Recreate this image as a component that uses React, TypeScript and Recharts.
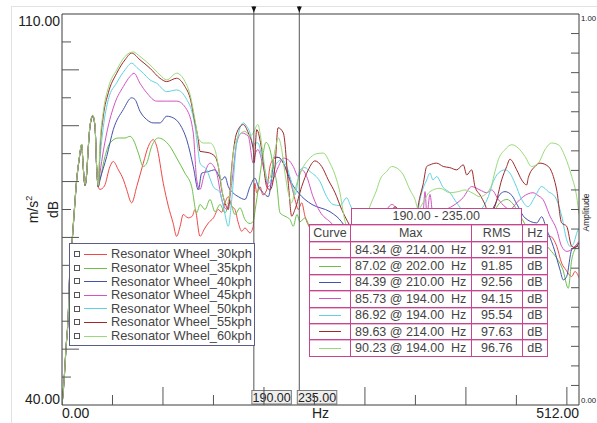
import React from 'react';
import { LineChart, Line, XAxis, YAxis, ReferenceLine, Legend } from 'recharts';

type Pt = [number, number];

// Frequency (Hz), level (dB)
const wheel30kph: Pt[] = [
  [0, 40], [2, 44], [4, 50.5], [6, 55], [8, 65], [10, 69], [12, 74], [14.5, 80], [17, 84], [19.5, 86.4], [21, 82.5], [22.8, 79.2], [24.5, 81.4], [26, 86], [27.7, 89.7], [30.4, 91.6], [32.7, 89.7], [34.3, 82.5], [35.9, 79],
  [37.6, 78.6], [42, 79.2], [47.5, 82.7], [50.8, 83.6], [55.8, 82.1], [60.9, 80.3], [64, 78.6], [69, 76.2], [74, 79.1], [80.5, 83.3], [85.5, 86.3], [90.4, 87.5], [93.8, 86.3], [100.3, 79.7], [105.3, 75.6], [110, 72.6], [113.5, 70.2], [117, 72], [120, 74.1], [125, 73.5], [129, 73.8], [131.7, 75], [136.7, 70.2], [141, 71.5], [145, 72.6], [150, 73.5], [154.8, 75], [158, 74.5], [161.4, 76.2], [164.7, 77.3], [168.1, 75.6], [171.3, 75], [174.6, 72.6], [178, 71.1], [181.2, 71.7], [186.2, 70.8], [189.4, 72], [191, 79.7], [192.8, 78], [196.1, 79.1], [199, 77.6], [202.7, 78.5], [206, 82.7], [209.3, 84], [214, 84.34], [219.2, 83.3], [224.1, 80.9], [227.5, 79.1], [230.7, 76.8], [234, 75], [237.4, 76.2], [240.6, 73.8], [246, 71.5], [260, 69], [290, 67], [330, 66], [380, 67], [430, 68], [470, 69], [483.3, 70.2], [490, 68.4], [494.8, 65.4], [499, 64.2], [504.8, 63], [508, 63.9], [512, 62.8],
];

const wheel35kph: Pt[] = [
  [0, 40], [2, 44.5], [4, 50], [6, 55.5], [8, 65.5], [10, 69.5], [12, 74.5], [14.5, 80.3], [17, 84], [19.5, 86.6], [21, 82.7], [22.8, 79.4], [24.5, 81.6], [26, 86], [27.7, 89.9], [30.4, 91.8], [32.7, 89.9], [34.3, 82.7], [35.9, 79.1],
  [37.6, 80.3], [42.6, 84.5], [47.5, 86.9], [55.8, 87.8], [62.4, 87.8], [67.3, 88.1], [70.6, 87.5], [75.6, 85.1], [80.5, 82.7], [83.9, 83.3], [88.8, 86.3], [95.4, 87.8], [100.3, 87.5], [106.9, 86.3], [113.6, 84.2], [121.8, 81.5], [128.4, 79.1], [133.4, 74.4], [136.7, 75.9], [141.6, 75], [146.6, 76.8], [151.5, 74.6], [156.5, 75.9], [161.4, 74.4], [166.4, 76.2], [171.3, 74.1], [176.3, 75.3], [181.2, 73.2], [186.2, 72.5], [189.1, 72.8], [192.1, 75.9], [196.1, 81.2], [199, 84.8], [202, 87.02], [206, 85.7], [209, 83], [212.6, 79.7], [215.9, 74.4], [220.8, 73.8], [225.8, 73.2], [229, 72], [232.7, 74.1], [235.7, 72.8], [240.6, 73.5], [245.6, 71.7], [260, 69], [290, 66.5], [330, 67], [370, 70], [400, 72.5], [425, 74], [433.7, 76.2], [440.6, 76.8], [446.6, 76], [451.6, 74.6], [460, 72], [470, 70.5], [483.3, 67.8], [489.9, 66.3], [496.1, 64.2], [501.4, 60.9], [504.8, 66], [509.7, 68.4], [512, 69.1],
];

const wheel40kph: Pt[] = [
  [0, 40], [2, 44.3], [4, 50.3], [6, 55.2], [8, 65.3], [10, 69.2], [12, 74.2], [14.5, 80.2], [17, 84], [19.5, 86.5], [21, 82.6], [22.8, 79.3], [24.5, 81.5], [26, 86], [27.7, 89.8], [30.4, 91.7], [32.7, 89.8], [34.3, 82.6], [35.9, 79.1],
  [37.6, 80.3], [44.3, 84.5], [50.8, 89.3], [60.7, 92.9], [69, 95], [72.3, 94.7], [77.2, 92.6], [83.9, 91.1], [90.4, 90.5], [97, 90.5], [103.7, 91.7], [110.2, 91.4], [116.9, 90.2], [123.5, 87.5], [130, 82.7], [135, 78.5], [138.3, 81.5], [144.9, 81.8], [151.5, 82.1], [158.2, 80.3], [161.4, 80.9], [164.7, 79.1], [169.3, 78], [174.6, 77.3], [181.2, 76.8], [186.2, 79.1], [191.1, 80.6], [194.4, 79.1], [199.3, 78], [204.3, 77.3], [208, 81.2], [210, 84.39], [214.9, 84.3], [220.8, 82.7], [227.5, 79.7], [234, 78], [240.6, 76.8], [247.6, 75.9], [265.4, 74.6], [272.3, 73.7], [290, 70], [330, 68], [370, 69], [400, 70.5], [420, 73], [428.8, 75.9], [433.7, 77.7], [438.7, 78.2], [445.6, 77.5], [450.3, 76], [458.5, 73.5], [470.1, 72.6], [475, 73.7], [480, 71.4], [486.5, 68.4], [493.2, 64.2], [496.4, 62.4], [499.8, 63], [504.8, 67.8], [509.7, 68.4], [512, 68.2],
];

const wheel45kph: Pt[] = [
  [0, 40], [2, 44.4], [4, 50.1], [6, 55.4], [8, 65.1], [10, 69.4], [12, 74.4], [14.5, 80.3], [17, 84], [19.5, 86.6], [21, 82.7], [22.8, 79.4], [24.5, 81.6], [26, 86], [27.7, 89.9], [30.4, 91.8], [32.7, 89.9], [34.3, 82.7], [35.9, 79.1],
  [37.6, 81.5], [44.3, 88.7], [52.5, 94.1], [60.7, 97], [67.3, 98.8], [71.3, 99.4], [77.2, 97.6], [83.9, 95.9], [93.8, 94.4], [103.7, 94.4], [113.6, 94.4], [123.5, 92.9], [130, 88.7], [133.4, 80.3], [136.7, 78.6], [140.6, 81.1], [146.6, 83.3], [153.2, 81.5], [158.2, 76.8], [163.1, 75], [168.1, 79.7], [173, 86.9], [178, 88.7], [184.5, 88.1], [189.4, 83.3], [191.1, 84.8], [194, 85.73], [199.3, 82.7], [204.3, 79.1], [209, 80.3], [214.3, 82.7], [219.2, 84.2], [224.1, 83.9], [229, 82.7], [234, 80.9], [237.7, 82.1], [242.3, 80.9], [248.6, 77.3], [255.5, 74.6], [265.4, 72.8], [285, 70], [305, 71], [319.9, 74.6], [326.8, 75.9], [333.7, 74.6], [350, 71], [357.5, 74.1], [359.5, 78.2], [361.4, 74.1], [364.4, 77.7], [367.4, 74.1], [380.3, 75], [389.2, 75.9], [397.1, 77.1], [405.7, 79.1], [413.9, 78.5], [420.6, 78], [425.5, 78.5], [432.1, 76.8], [438.7, 75.5], [443.6, 75], [450.3, 76.2], [456.8, 77.3], [466.4, 78], [471.4, 77.5], [476.3, 76.8], [483.3, 73.8], [489.9, 71.4], [494.8, 68.4], [500.1, 67.5], [508, 68.4], [512, 69.3],
];

const wheel50kph: Pt[] = [
  [0, 40], [2, 44.1], [4, 50.4], [6, 55.3], [8, 65.4], [10, 69.1], [12, 74.1], [14.5, 80.1], [17, 84.1], [19.5, 86.5], [21, 82.6], [22.8, 79.3], [24.5, 81.5], [26, 86], [27.7, 89.8], [30.4, 91.7], [32.7, 89.8], [34.3, 82.6], [35.9, 79.1],
  [37.6, 83.9], [40.9, 89.7], [45.9, 94.7], [54.2, 97.7], [62.4, 100], [69, 101.2], [74.3, 100.4], [80.5, 99.4], [87.1, 98.2], [93.8, 97.6], [103.7, 96.1], [113.6, 96.4], [123.5, 94.7], [128.7, 92.5], [131.7, 89.9], [134.7, 85.7], [136.7, 83.3], [143.3, 82.1], [149.8, 79.1], [156.5, 78], [160.4, 75], [164.7, 72], [168.1, 76.8], [173, 86.9], [179.5, 90.5], [182.9, 89.9], [186.2, 88.7], [189.4, 86.3], [191.1, 86.9], [194, 86.92], [197.8, 84.5], [201, 82.1], [204.3, 79.7], [208, 80.7], [212.6, 83.3], [217.6, 83.9], [222.5, 82.7], [227.5, 79.7], [230.7, 77.6], [235.7, 82.1], [240.6, 82.5], [245.6, 81.8], [255.5, 80], [262.1, 77.3], [268.4, 75.9], [275.3, 75.7], [282, 77.1], [285.2, 75.9], [300, 70], [330, 68], [350, 72], [354.5, 76.8], [361.2, 80.3], [364.4, 81.5], [367.4, 80.3], [371, 80.9], [377.6, 78.9], [384.2, 78], [390.9, 76.2], [399.1, 74.6], [414, 75], [422.2, 77.3], [427.1, 80], [432.1, 81.5], [438.7, 82.1], [443.6, 81.5], [448.6, 79.7], [455.2, 76.8], [461.5, 75.5], [468.4, 77.3], [475, 79.1], [481.6, 78.2], [488.2, 77.3], [494.9, 73.8], [499.8, 69.6], [503.1, 68.4], [506, 68.7], [511.3, 71.4], [512, 71.5],
];

const wheel55kph: Pt[] = [
  [0, 40], [2, 44.2], [4, 50.2], [6, 55.6], [8, 65.2], [10, 69.3], [12, 74.3], [14.5, 80.3], [17, 84], [19.5, 86.6], [21, 82.7], [22.8, 79.4], [24.5, 81.6], [26, 86], [27.7, 89.9], [30.4, 91.8], [32.7, 89.9], [34.3, 82.7], [35.9, 79.1],
  [37.6, 85.7], [40.9, 91.7], [45.9, 95.9], [54.2, 99.4], [62.4, 101.8], [69, 103], [77.2, 101.8], [87.1, 100.3], [97, 98.5], [103.6, 97.9], [113.5, 98.5], [121.8, 97], [126.8, 95], [131.7, 90.6], [135, 87.5], [136.7, 85.4], [144.6, 85.2], [151.5, 84.5], [154.8, 82.7], [158.2, 78.5], [161.4, 76.2], [164.7, 75], [168.1, 82.7], [173, 88.7], [179.5, 90.2], [184.5, 88.7], [189.4, 85.7], [190.4, 83.4], [192.8, 89.3], [197.8, 85.7], [202.7, 79.1], [206, 78.5], [210.9, 82.7], [214, 89.63], [219.2, 88.7], [224.1, 79.7], [227.5, 73.8], [230.7, 75], [237.4, 79.1], [243.9, 82.1], [250.5, 83.7], [257.2, 82.7], [263.7, 80.3], [270.4, 78], [277, 75], [283, 72.8], [295, 70], [310, 70], [322, 73], [330, 75.5], [338, 73], [348, 72], [354.5, 77.3], [357.5, 79.4], [361.2, 82.7], [364.4, 83], [371, 83.3], [377.6, 82.7], [384, 82.5], [390.9, 82.1], [397.4, 83], [400.8, 81.2], [405.7, 82.1], [409, 79.1], [414, 77.6], [418.9, 75.9], [423, 74], [428.8, 75.6], [435.4, 80.3], [440.4, 82.7], [443.6, 84], [450.3, 82.1], [455.2, 80.3], [460.2, 79.4], [461.8, 80.7], [468.4, 82.7], [473.4, 83.3], [481.6, 82.7], [486.6, 80.9], [489.9, 78.5], [494.8, 72.6], [499.8, 72], [504.8, 68.4], [508, 68.2], [512, 69],
];

const wheel60kph: Pt[] = [
  [0, 40], [2, 44.2], [4, 50.2], [6, 55.5], [8, 65.2], [10, 69.3], [12, 74.3], [14.5, 80.3], [17, 84.1], [19.5, 86.7], [21, 82.8], [22.8, 79.5], [24.5, 81.7], [26, 86.1], [27.7, 90], [30.4, 91.9], [32.7, 90], [34.3, 82.8], [35.9, 79.3],
  [37.6, 86.6], [40.9, 92.5], [45.9, 96.8], [54.2, 100], [62.4, 102.4], [70.6, 103.2], [77.2, 102.4], [87.1, 100.9], [97, 99.1], [103.7, 98.2], [113.6, 99.4], [121.8, 97.9], [126.8, 95.6], [131.7, 91.1], [135, 87.8], [139.9, 86.9], [146.6, 86.9], [151.5, 85.7], [156.5, 80.9], [159.7, 77.3], [163.1, 75.9], [166.4, 78], [169.6, 85.1], [174.6, 88.1], [181.2, 89], [186.2, 88.1], [189.4, 88.7], [194, 90.23], [196.1, 88.7], [199.3, 84.5], [202.7, 80.3], [206, 80.7], [211, 85.7], [214.3, 87.8], [217.6, 85.7], [220.8, 81.5], [224.1, 78], [227.5, 76.2], [230.7, 78.5], [237.4, 82.1], [243.9, 83.9], [252.2, 85], [258.8, 85.1], [265.4, 83.3], [272, 80.3], [275.3, 78], [278.6, 74.4], [285.2, 70.5], [295, 70], [305, 75.6], [311.6, 78.5], [314.9, 80.3], [321.5, 81.8], [326.5, 82.7], [330.8, 82.5], [338, 81.2], [344.6, 78.5], [349.6, 76.8], [352.9, 75], [356.5, 75.9], [364.4, 78.2], [374.3, 78.8], [384.2, 78], [392.4, 78.2], [399.1, 78.5], [406, 78], [413.9, 77.3], [420.9, 78], [425.5, 79.4], [428.8, 81.8], [432.1, 83.9], [438.7, 85.7], [445.3, 86.6], [451.9, 86], [458.5, 84.5], [465.1, 82.7], [471.7, 83.3], [478.3, 85.7], [484.9, 86.9], [491.5, 86.6], [498.1, 84.5], [504.8, 80.9], [509.7, 77.3], [512, 74.1],
];

const seriesNames = [
  'Resonator Wheel_30kph',
  'Resonator Wheel_35kph',
  'Resonator Wheel_40kph',
  'Resonator Wheel_45kph',
  'Resonator Wheel_50kph',
  'Resonator Wheel_55kph',
  'Resonator Wheel_60kph',
];
const seriesPoints = [wheel30kph, wheel35kph, wheel40kph, wheel45kph, wheel50kph, wheel55kph, wheel60kph];
const seriesColors = ['#f04646', '#6cc04a', '#4352ad', '#d253c2', '#5dd2e2', '#a02828', '#98da78'];

const freqTicks = [0, 50, 100, 150, 200, 250, 300, 350, 400, 450, 500, 512];
const dbTicks = [40, 45, 50, 55, 60, 65, 70, 75, 80, 85, 90, 95, 100, 105, 110];
const ampTicks = [0, 0.05, 0.1, 0.15, 0.2, 0.25, 0.3, 0.35, 0.4, 0.45, 0.5, 0.55, 0.6, 0.65, 0.7, 0.75, 0.8, 0.85, 0.9, 0.95, 1];
const cursorHz = [190, 235];

// Cursor band statistics
const maxDb = [84.34, 87.02, 84.39, 85.73, 86.92, 89.63, 90.23];
const maxAtHz = [214, 202, 210, 194, 194, 214, 194];
const rmsDb = [92.91, 91.85, 92.56, 94.15, 95.54, 97.63, 96.76];

const FONT = '"Liberation Sans", Arial, sans-serif';
const AXIS = '#3c3c3c';
const PINK = '#c4468f';

const XTick = (props: any) => {
  const { x, y, payload } = props;
  const v = payload.value;
  if (v === 0 || v === 512) {
    return (
      <text x={x} y={y + 13} textAnchor={v === 0 ? 'start' : 'end'} fontSize={14} fill="#222" fontFamily={FONT}>
        {v.toFixed(2)}
      </text>
    );
  }
  const len = v % 100 === 0 ? 18 : 10;
  return <line x1={x} x2={x} y1={y} y2={y - len} stroke="#555" />;
};

const YTick = (props: any) => {
  const { x, y, payload } = props;
  const v = payload.value;
  if (v === 110) {
    return <text x={x - 2} y={y + 12} textAnchor="end" fontSize={14} fill="#222" fontFamily={FONT}>{v.toFixed(2)}</text>;
  }
  if (v === 40) {
    return <text x={x - 2} y={y - 1.5} textAnchor="end" fontSize={14} fill="#222" fontFamily={FONT}>{v.toFixed(2)}</text>;
  }
  const len = v % 10 === 0 ? 17 : 9;
  return <line x1={x} x2={x + len} y1={y} y2={y} stroke="#555" />;
};

const AmpTick = (props: any) => {
  const { x, y, payload } = props;
  const v = payload.value;
  if (v === 1) {
    return <text x={x + 2} y={y + 7} fontSize={7.8} fill="#222" fontFamily={FONT}>{v.toFixed(2)}</text>;
  }
  if (v === 0) {
    return <text x={x + 2} y={y - 2} fontSize={7.8} fill="#222" fontFamily={FONT}>{v.toFixed(2)}</text>;
  }
  return <line x1={x} x2={x - 8} y1={y} y2={y} stroke="#555" />;
};

const LeftAxisLabel = (props: any) => {
  const vb = props.viewBox || { x: 0, y: 14, width: 62, height: 391 };
  const cy = vb.y + vb.height / 2;
  return (
    <g fontFamily={FONT} fill="#222">
      <text x={38} y={cy} fontSize={14} textAnchor="middle" transform={`rotate(-90 38 ${cy})`}>
        m/s<tspan fontSize={9} dy={-6}>2</tspan>
      </text>
      <text x={58} y={cy} fontSize={14} textAnchor="middle" transform={`rotate(-90 58 ${cy})`}>dB</text>
    </g>
  );
};

const RightAxisLabel = (props: any) => {
  const vb = props.viewBox || { x: 579, y: 14, width: 18, height: 391 };
  const cy = vb.y + vb.height / 2 + 3;
  const x = vb.x + 10;
  return (
    <text x={x} y={cy} fontSize={8.5} fill="#222" fontFamily={FONT} textAnchor="middle" transform={`rotate(-90 ${x} ${cy})`}>
      Amplitude
    </text>
  );
};

const HzLabel = (props: any) => {
  const vb = props.viewBox || { x: 62, y: 405, width: 517, height: 18 };
  return (
    <text x={vb.x + vb.width / 2} y={vb.y + 13} fontSize={14} fill="#222" fontFamily={FONT} textAnchor="middle">Hz</text>
  );
};

const CursorMark = (props: any) => {
  const { viewBox, hz } = props;
  if (!viewBox) return null;
  const x = viewBox.x;
  const top = viewBox.y;
  const bottom = viewBox.y + viewBox.height;
  return (
    <g>
      <line x1={x} x2={x} y1={top - 8} y2={bottom - 14.5} stroke="#555" />
      <path d={`M${x - 2.5},${top - 7.5} L${x + 2.5},${top - 7.5} L${x},${top - 1.5} Z`} fill="#111" />
      <rect x={x - 2} y={bottom - 14.5} width={39.5} height={13.5} fill="#eeeeee" stroke="#7a7a7a" />
      <text x={x + 17.8} y={bottom - 3.2} textAnchor="middle" fontSize={12.5} fill="#222" fontFamily={FONT}>
        {hz.toFixed(2)}
      </text>
    </g>
  );
};

const LegendBox = (props: any) => {
  const payload: any[] = (props.payload || []).slice().sort(
    (a: any, b: any) => seriesNames.indexOf(a.value) - seriesNames.indexOf(b.value)
  );
  return (
    <div
      style={{
        position: 'relative',
        width: 186,
        height: 103,
        border: '1px solid #5c5c86',
        background: '#fff',
        boxSizing: 'border-box',
        fontFamily: FONT,
      }}
    >
      {payload.map((p: any, i: number) => (
        <div key={p.value} style={{ position: 'absolute', left: 0, top: 3.4 + i * 13.6, height: 13.6, width: '100%' }}>
          <div style={{ position: 'absolute', left: 3.5, top: 3.8, width: 6, height: 6, border: '1px solid #555', boxSizing: 'border-box' }} />
          <div style={{ position: 'absolute', left: 14, top: 6.5, width: 23, height: 1, background: p.color }} />
          <span style={{ position: 'absolute', left: 41, top: 0, lineHeight: '13.6px', fontSize: 12.8, color: '#444', whiteSpace: 'nowrap' }}>
            {p.value}
          </span>
        </div>
      ))}
    </div>
  );
};

const StatsTable = () => {
  const cell: React.CSSProperties = {
    border: `1px solid ${PINK}`,
    padding: 0,
    boxShadow: 'inset 0 1px 0 #ecb8d6',
    whiteSpace: 'pre',
    overflow: 'hidden',
  };
  return (
    <div style={{ position: 'absolute', left: 0, top: 0, fontFamily: FONT, color: '#444', fontSize: 12.5 }}>
      <div
        style={{
          position: 'absolute',
          left: 350.5,
          top: 207.5,
          width: 171.5,
          height: 17.5,
          border: `1px solid ${PINK}`,
          background: '#fff',
          boxSizing: 'border-box',
          textAlign: 'center',
          lineHeight: '15px',
        }}
      >
        {`${cursorHz[0].toFixed(2)} - ${cursorHz[1].toFixed(2)}`}
      </div>
      <table
        style={{
          position: 'absolute',
          left: 309,
          top: 224,
          width: 238,
          borderCollapse: 'collapse',
          tableLayout: 'fixed',
          background: '#fff',
          fontSize: 12.5,
        }}
      >
        <colgroup>
          <col style={{ width: 41 }} />
          <col style={{ width: 120.5 }} />
          <col style={{ width: 51.5 }} />
          <col style={{ width: 25 }} />
        </colgroup>
        <tbody>
          <tr style={{ height: 17 }}>
            <td style={{ ...cell, textAlign: 'center' }}>Curve</td>
            <td style={{ ...cell, textAlign: 'center' }}>Max</td>
            <td style={{ ...cell, textAlign: 'center' }}>RMS</td>
            <td style={{ ...cell, textAlign: 'center' }}>Hz</td>
          </tr>
          {seriesNames.map((n, i) => (
            <tr key={n} style={{ height: 16.4 }}>
              <td style={{ ...cell }}>
                <div style={{ width: 22, height: 1, background: seriesColors[i], margin: '0 auto' }} />
              </td>
              <td style={{ ...cell, paddingLeft: 4 }}>{`${maxDb[i].toFixed(2)} @ ${maxAtHz[i].toFixed(2)}  Hz`}</td>
              <td style={{ ...cell, textAlign: 'center' }}>{rmsDb[i].toFixed(2)}</td>
              <td style={{ ...cell, textAlign: 'center' }}>dB</td>
            </tr>
          ))}
        </tbody>
      </table>
    </div>
  );
};

export default function App() {
  return (
    <div style={{ position: 'absolute', left: 0, top: 0, width: 597, height: 423, background: '#fff', fontFamily: FONT, overflow: 'hidden' }}>
      <div style={{ position: 'absolute', left: 11, top: 6, width: 590, height: 420, borderLeft: '1px solid #e2e2e2', borderTop: '1px solid #e2e2e2' }} />
      <div style={{ position: 'absolute', left: 0, top: 0 }}>
        <LineChart width={597} height={423} margin={{ top: 14, right: 0, bottom: 0, left: 0 }}>
          <XAxis
            type="number"
            dataKey="hz"
            domain={[0, 512]}
            ticks={freqTicks}
            interval={0}
            height={18}
            tickSize={0}
            tickMargin={0}
            tickLine={false}
            tick={(p: any) => <XTick {...p} />}
            axisLine={{ stroke: AXIS }}
            allowDataOverflow
            label={(p: any) => <HzLabel {...p} />}
          />
          <YAxis
            yAxisId="db"
            type="number"
            domain={[40, 110]}
            ticks={dbTicks}
            interval={0}
            width={62}
            tickSize={0}
            tickMargin={0}
            tickLine={false}
            tick={(p: any) => <YTick {...p} />}
            axisLine={{ stroke: AXIS }}
            allowDataOverflow
            label={(p: any) => <LeftAxisLabel {...p} />}
          />
          <YAxis
            yAxisId="amp"
            orientation="right"
            type="number"
            domain={[0, 1]}
            ticks={ampTicks}
            interval={0}
            width={18}
            tickSize={0}
            tickMargin={0}
            tickLine={false}
            tick={(p: any) => <AmpTick {...p} />}
            axisLine={{ stroke: AXIS }}
            allowDataOverflow
            label={(p: any) => <RightAxisLabel {...p} />}
          />
          <ReferenceLine yAxisId="db" y={110} stroke={AXIS} />
          {seriesPoints.map((pts, i) => (
            <Line
              key={seriesNames[i]}
              yAxisId="db"
              name={seriesNames[i]}
              data={pts.map(([hz, db]) => ({ hz, db }))}
              dataKey="db"
              type="monotone"
              stroke={seriesColors[i]}
              strokeWidth={1}
              dot={false}
              activeDot={false}
              isAnimationActive={false}
            />
          ))}
          {cursorHz.map((h) => (
            <ReferenceLine
              key={h}
              yAxisId="db"
              x={h}
              stroke="none"
              label={(p: any) => <CursorMark {...p} hz={h} />}
            />
          ))}
          <Legend
            layout="vertical"
            align="center"
            verticalAlign="middle"
            content={(p: any) => <LegendBox {...p} />}
            wrapperStyle={{ left: 69, top: 243, width: 186, height: 103, margin: 0, padding: 0 }}
          />
        </LineChart>
      </div>
      <StatsTable />
    </div>
  );
}
